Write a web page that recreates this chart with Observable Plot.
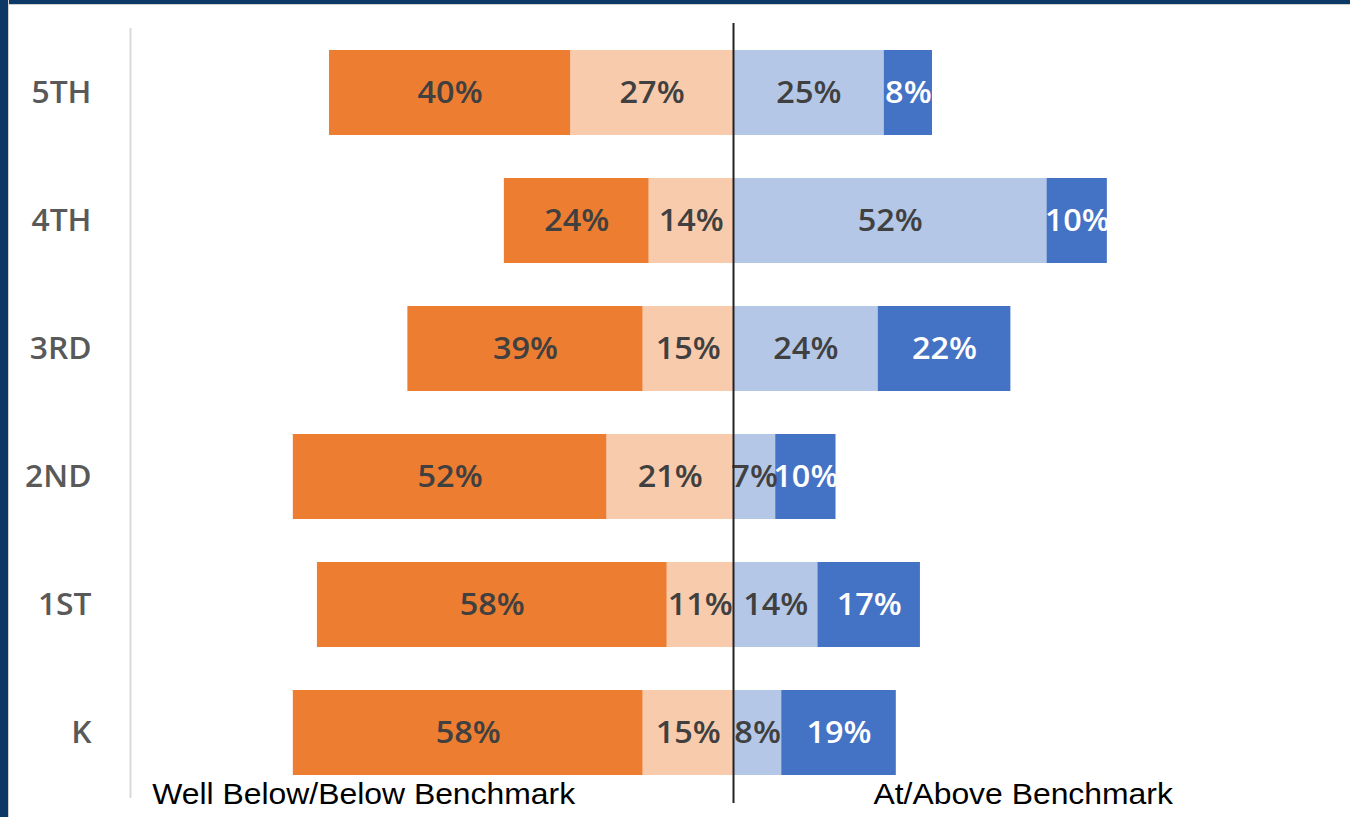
<!DOCTYPE html>
<html>
<head>
<meta charset="utf-8">
<script src="https://cdn.jsdelivr.net/npm/d3@7"></script>
<script src="https://cdn.jsdelivr.net/npm/@observablehq/plot@0.6"></script>
<style>
  html, body { margin: 0; padding: 0; background: white; }
  #wrap { position: relative; width: 1350px; height: 817px; overflow: hidden; background: white; }
  #chart { position: absolute; left: 0; top: 0; }
  .bt { position: absolute; left: 0; top: 0; width: 1350px; height: 4px; background: #0c3866; border-bottom: 1px solid #cfcfcf; }
  .bl { position: absolute; left: 0; top: 0; width: 8px; height: 817px; background: #0c3866; border-right: 1px solid #cfcfcf; }
</style>
</head>
<body>
<div id="wrap">
  <div id="chart"></div>
  <div class="bt"></div>
  <div class="bl"></div>
</div>
<script>
const grades = ["5TH", "4TH", "3RD", "2ND", "1ST", "K"];
const wellBelow = [40, 24, 39, 52, 58, 58];
const below = [27, 14, 15, 21, 11, 15];
const atBench = [25, 52, 24, 7, 14, 8];
const aboveBench = [8, 10, 22, 10, 17, 19];
const categories = ["Well Below", "Below", "At", "Above"];
const colors = ["#ED7D31", "#F8CBAD", "#B4C7E7", "#4472C4"];
const bottomLabels = ["Well Below/Below Benchmark", "At/Above Benchmark"];

const segs = [];
grades.forEach((g, i) => {
  segs.push({grade: g, cat: "Below", value: below[i], x1: -below[i], x2: 0});
  segs.push({grade: g, cat: "Well Below", value: wellBelow[i], x1: -below[i] - wellBelow[i], x2: -below[i]});
  segs.push({grade: g, cat: "At", value: atBench[i], x1: 0, x2: atBench[i]});
  segs.push({grade: g, cat: "Above", value: aboveBench[i], x1: atBench[i], x2: atBench[i] + aboveBench[i]});
});

const labelFont = {fontSize: 30, fontWeight: 600, fontFamily: "Open Sans"};

const chart = Plot.plot({
  width: 1350,
  height: 817,
  marginLeft: 130,
  marginRight: 14,
  marginTop: 37,
  marginBottom: 29,
  style: {background: "white", fontFamily: "Open Sans", overflow: "visible"},
  x: {domain: [-100, 100], axis: null},
  y: {domain: grades, paddingInner: 0.337, paddingOuter: 0.1, label: null, axis: null},
  color: {domain: categories, range: colors},
  marks: [
    Plot.barX(segs, {x1: "x1", x2: "x2", y: "grade", fill: "cat"}),
    Plot.text(segs.filter(d => d.cat !== "Above"), {
      x: d => (d.x1 + d.x2) / 2, y: "grade", text: d => d.value + "%",
      fill: "#404040", ...labelFont
    }),
    Plot.text(segs.filter(d => d.cat === "Above"), {
      x: d => (d.x1 + d.x2) / 2, y: "grade", text: d => d.value + "%",
      fill: "white", ...labelFont
    }),
    Plot.axisY({tickSize: 0, tickPadding: 39, fontSize: 30, fontWeight: 600, fill: "#595959", fontFamily: "Open Sans", label: null}),
    Plot.ruleX([-100], {stroke: "#d9d9d9", strokeWidth: 2, insetTop: -9, insetBottom: -10}),
    Plot.ruleX([0], {stroke: "#222222", strokeWidth: 2, insetTop: -14, insetBottom: -15}),
    Plot.text([bottomLabels[0]], {
      x: -96.4, frameAnchor: "bottom", lineAnchor: "top", dy: -5, textAnchor: "start",
      text: d => d, fontSize: 29, fontFamily: "Liberation Sans, Arial, sans-serif", fill: "black"
    }),
    Plot.text([bottomLabels[1]], {
      x: 23.2, frameAnchor: "bottom", lineAnchor: "top", dy: -5, textAnchor: "start",
      text: d => d, fontSize: 29, fontFamily: "Liberation Sans, Arial, sans-serif", fill: "black"
    })
  ]
});
document.getElementById("chart").appendChild(chart);

// Horizontal stretch of text glyphs about their anchor point (the source image is slightly widened)
d3.select(chart).selectAll("text").each(function() {
  const t = this.textContent;
  let s = 1;
  if (bottomLabels.includes(t)) s = 1.1;
  else if (grades.includes(t)) s = 1.06;
  else if (t.endsWith("%")) s = 1.08;
  if (s === 1) return;
  let tr = this.getAttribute("transform") || "";
  const xa = this.getAttribute("x");
  if (xa !== null && isFinite(+xa) && +xa !== 0) {
    tr += ` translate(${+xa},0)`;
    this.removeAttribute("x");
  }
  this.setAttribute("transform", `${tr} scale(${s},1)`);
});
</script>
</body>
</html>
